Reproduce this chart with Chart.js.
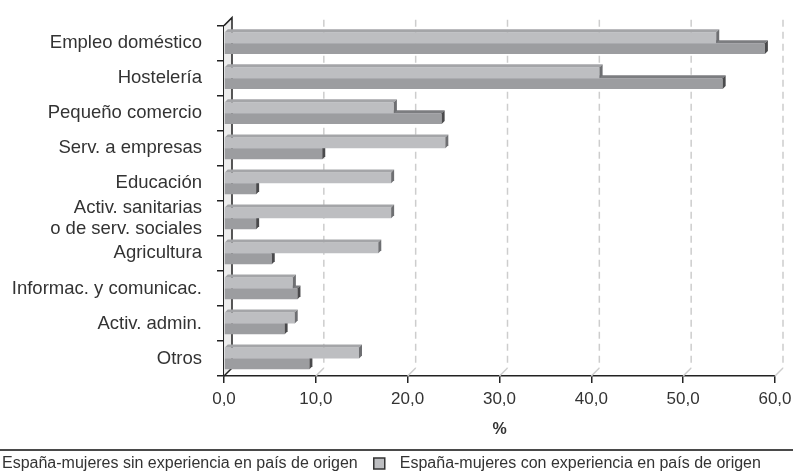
<!DOCTYPE html>
<html>
<head>
<meta charset="utf-8">
<script src="https://cdn.jsdelivr.net/npm/chart.js@4.4.1/dist/chart.umd.min.js"></script>
<style>
  body { margin: 0; background: #fff; }
  #caja { width: 793px; height: 475px; }
</style>
</head>
<body>
<div id="caja"><canvas id="grafico" width="793" height="475"></canvas></div>
<script>
// datos
const categorias = ['Empleo doméstico', 'Hostelería', 'Pequeño comercio', 'Serv. a empresas', 'Educación',
    ['Activ. sanitarias', 'o de serv. sociales'], 'Agricultura', 'Informac. y comunicac.', 'Activ. admin.', 'Otros'];
const sinExperiencia = [58.9, 54.3, 23.7, 10.7, 3.5, 3.5, 5.2, 8.0, 6.6, 9.3];
const conExperiencia = [53.6, 40.9, 18.5, 24.1, 18.2, 18.2, 16.8, 7.5, 7.7, 14.7];
const ticksX = [0, 10, 20, 30, 40, 50, 60];
const etiquetaSin = 'España-mujeres sin experiencia en país de origen';
const etiquetaCon = 'España-mujeres con experiencia en país de origen';

const FUENTE = '"Liberation Sans", Arial, sans-serif';
const PROF = 3;      // profundidad de las barras
const PARED = 8;     // profundidad del fondo

const ctx = document.getElementById('grafico').getContext('2d');

// pared izquierda y lineas de division desplazadas (efecto 3D)
const fondo3d = {
    id: 'fondo3d',
    beforeDatasetsDraw(chart) {
        const c = chart.ctx;
        const { top, bottom, left } = chart.chartArea;
        const x = chart.scales.x;
        c.save();
        // lineas de division
        c.strokeStyle = '#cdcdcd';
        c.lineWidth = 1.5;
        ticksX.slice(1).forEach(v => {
            const px = x.getPixelForValue(v);
            c.setLineDash([7, 5]);
            c.beginPath();
            c.moveTo(px + PARED, top - PARED + 2);
            c.lineTo(px + PARED, bottom - PARED);
            c.stroke();
            c.setLineDash([]);
            c.beginPath();
            c.moveTo(px + PARED, bottom - PARED);
            c.lineTo(px, bottom);
            c.stroke();
        });
        // pared
        c.fillStyle = '#ececec';
        c.beginPath();
        c.moveTo(left, bottom);
        c.lineTo(left, top);
        c.lineTo(left + PARED, top - PARED);
        c.lineTo(left + PARED, bottom - PARED);
        c.closePath();
        c.fill();
        c.strokeStyle = '#222';
        c.lineWidth = 1.5;
        c.beginPath();
        c.moveTo(left, top);
        c.lineTo(left + PARED, top - PARED);
        c.lineTo(left + PARED, bottom - PARED);
        c.lineTo(left, bottom);
        c.stroke();
        c.restore();
    }
};

// caras superior y lateral de cada barra
const barras3d = {
    id: 'barras3d',
    afterDatasetDraw(chart, args) {
        const c = chart.ctx;
        const ds = chart.data.datasets[args.index];
        c.save();
        args.meta.data.forEach(el => {
            const { x, y, base, height } = el.getProps(['x', 'y', 'base', 'height'], true);
            const y0 = y - height / 2, y1 = y + height / 2;
            c.fillStyle = ds.colorArriba;
            c.beginPath();
            c.moveTo(base, y0);
            c.lineTo(x, y0);
            c.lineTo(x + PROF, y0 - PROF);
            c.lineTo(base + PROF, y0 - PROF);
            c.closePath();
            c.fill();
            c.fillStyle = ds.colorLado;
            c.beginPath();
            c.moveTo(x, y0);
            c.lineTo(x + PROF, y0 - PROF);
            c.lineTo(x + PROF, y1 - PROF);
            c.lineTo(x, y1);
            c.closePath();
            c.fill();
        });
        c.restore();
    }
};

// leyenda bajo una linea horizontal
const leyenda = {
    id: 'leyenda',
    afterDraw(chart) {
        const c = chart.ctx;
        c.save();
        c.strokeStyle = '#4a4a4a';
        c.lineWidth = 2;
        c.beginPath();
        c.moveTo(0, 450);
        c.lineTo(chart.width, 450);
        c.stroke();
        c.font = '16px ' + FUENTE;
        c.textBaseline = 'middle';
        c.fillStyle = '#333';
        let px = -24;
        const items = [chart.data.datasets[1], chart.data.datasets[0]];
        items.forEach(ds => {
            c.fillStyle = ds.backgroundColor;
            c.fillRect(px, 458, 11, 11);
            c.strokeStyle = '#333';
            c.lineWidth = 1.5;
            c.strokeRect(px, 458, 11, 11);
            c.fillStyle = '#333';
            c.fillText(ds.label, px + 26, 464);
            px = px + 26 + c.measureText(ds.label).width + 16;
        });
        c.restore();
    }
};

const grafico = new Chart(ctx, {
    type: 'bar',
    data: {
        labels: categorias,
        datasets: [
            {
                label: etiquetaCon,
                data: conExperiencia,
                backgroundColor: '#bdbec1',
                colorArriba: '#a4a5a8',
                colorLado: '#6e6f72',
                borderWidth: 0
            },
            {
                label: etiquetaSin,
                data: sinExperiencia,
                backgroundColor: '#9c9da0',
                colorArriba: '#7c7d80',
                colorLado: '#4a4a4c',
                borderWidth: 0
            }
        ]
    },
    options: {
        indexAxis: 'y',
        responsive: false,
        animation: false,
        categoryPercentage: 0.62,
        barPercentage: 1.0,
        layout: { padding: { top: 23, right: 18, left: 0, bottom: 0 } },
        plugins: {
            legend: { display: false },
            tooltip: { enabled: false }
        },
        scales: {
            x: {
                min: 0,
                max: 60,
                afterFit: s => { s.height = 99; s.paddingRight = 0; },
                afterBuildTicks: s => { s.ticks = ticksX.map(v => ({ value: v })); },
                ticks: {
                    padding: 6,
                    color: '#333',
                    font: { size: 17, family: FUENTE },
                    callback: v => v.toFixed(1).replace('.', ',')
                },
                grid: { drawOnChartArea: false, drawTicks: true, tickLength: 7, color: '#222', lineWidth: 1.5 },
                border: { display: true, color: '#222', width: 1.5 },
                title: {
                    display: true,
                    text: '%',
                    color: '#333',
                    font: { size: 16, weight: 'bold', family: FUENTE },
                    padding: { top: 4, bottom: 36 }
                }
            },
            y: {
                afterFit: s => { s.width = 224; },
                ticks: {
                    autoSkip: false,
                    padding: 15,
                    color: '#333',
                    font: { size: 18.5, family: FUENTE, lineHeight: 1.15 }
                },
                grid: { offset: true, drawOnChartArea: false, drawTicks: true, tickLength: 7, color: '#222', lineWidth: 1.5 },
                border: { display: true, color: '#222', width: 1.5 }
            }
        }
    },
    plugins: [fondo3d, barras3d, leyenda]
});
</script>
</body>
</html>
